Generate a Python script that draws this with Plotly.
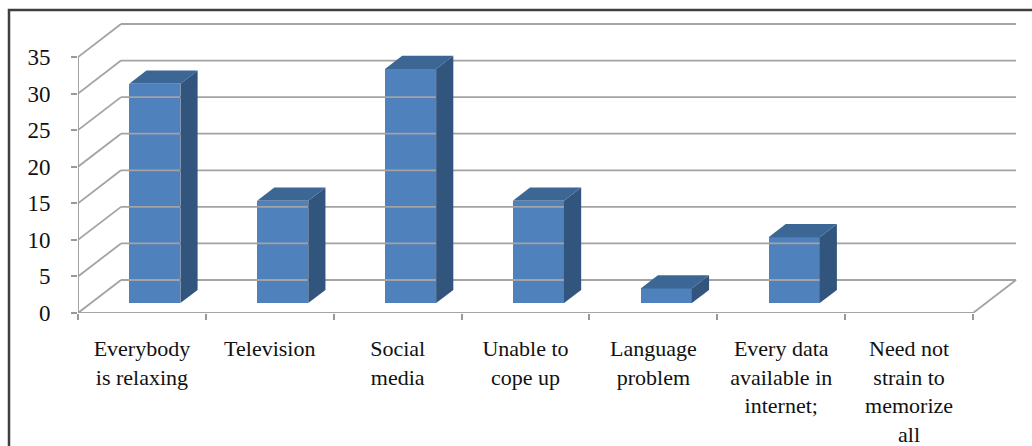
import plotly.graph_objects as go

categories = ["Everybody<br>is relaxing", "Television", "Social<br>media", "Unable to<br>cope up",
              "Language<br>problem", "Every data<br>available in<br>internet;",
              "Need not<br>strain to<br>memorize<br>all"]
values = [30, 14, 32, 14, 2, 9, 0]
y_ticks = [0, 5, 10, 15, 20, 25, 30, 35]

# oblique projection settings (in data units)
PX_PER_CAT = 127.86
PX_PER_VAL = 7.314
DX = 43 / PX_PER_CAT      # depth shift along x
DY = 33 / PX_PER_VAL      # depth shift along y
BAR_W = 0.4
F0, F1 = 0.3, 0.7         # bar depth span (fraction of floor depth)

n = len(categories)
x_lo, x_hi = -0.5, n - 0.5
y_max = y_ticks[-1]

GRID = "#a3a3a3"
fig = go.Figure()

def seg(xs, ys, color=GRID, w=1.8):
    fig.add_trace(go.Scatter(x=xs, y=ys, mode="lines", line=dict(color=color, width=w),
                             hoverinfo="skip", showlegend=False))

# back wall gridlines and left wall diagonals
for t in y_ticks:
    seg([x_lo + DX, x_hi + DX], [t + DY, t + DY])
    seg([x_lo, x_lo + DX], [t, t + DY])
# floor
seg([x_lo, x_hi], [0, 0])
seg([x_hi, x_hi + DX], [0, DY])
# front vertical axis
seg([x_lo, x_lo], [0, y_max], color="#999999", w=1.8)

FRONT = "#4F81BD"
SIDE = "#32557D"
TOP = "#3C6693"

sx0, sy0 = F0 * DX, F0 * DY
ddx, ddy = (F1 - F0) * DX, (F1 - F0) * DY

# front faces
fig.add_trace(go.Bar(x=[i + sx0 for i in range(n)], y=values, base=[sy0] * n, width=BAR_W,
                     marker=dict(color=FRONT, line=dict(width=0)), showlegend=False, hoverinfo="skip"))

for i, v in enumerate(values):
    if v <= 0:
        continue
    xl = i - BAR_W / 2 + sx0
    xr = i + BAR_W / 2 + sx0
    yb = sy0
    yt = v + sy0
    # side face
    fig.add_trace(go.Scatter(x=[xr, xr, xr + ddx, xr + ddx, xr], y=[yb, yt, yt + ddy, yb + ddy, yb],
                             fill="toself", fillcolor=SIDE, mode="lines", line=dict(width=0, color=SIDE),
                             hoverinfo="skip", showlegend=False))
    # top face
    fig.add_trace(go.Scatter(x=[xl, xr, xr + ddx, xl + ddx, xl], y=[yt, yt, yt + ddy, yt + ddy, yt],
                             fill="toself", fillcolor=TOP, mode="lines", line=dict(width=0, color=TOP),
                             hoverinfo="skip", showlegend=False))

L, R, T, B = 78, 12, 20, 133
W, H = 1032, 446
pw, ph = W - L - R, H - T - B

fig.update_layout(
    width=W, height=H,
    margin=dict(l=L, r=R, t=T, b=B),
    paper_bgcolor="white", plot_bgcolor="white",
    font=dict(family="Liberation Serif", color="#111111"),
    xaxis=dict(range=[x_lo, x_lo + pw / PX_PER_CAT], tickmode="array", automargin=False,
               tickvals=list(range(n)), ticktext=categories, ticks="", showgrid=False,
               zeroline=False, showline=False, tickfont=dict(size=22, family="Liberation Serif"),
               ticklabelstandoff=20,
               minor=dict(ticks="outside", ticklen=6, tick0=0.5, dtick=1, tickcolor="#999999",
                          tickwidth=1.5, showgrid=False)),
    yaxis=dict(range=[0, ph / PX_PER_VAL], tickmode="array", tickvals=y_ticks, automargin=False,
               ticks="outside", ticklen=6, tickcolor="#999999", tickwidth=1.5,
               showgrid=False, zeroline=False, showline=False,
               tickfont=dict(size=23, family="Liberation Serif"), ticklabelstandoff=16),
    bargap=0,
    shapes=[dict(type="rect", xref="paper", yref="paper",
                 x0=(9 - L) / pw, x1=(W + 10 - L) / pw,
                 y0=-1.0, y1=(H - B - 10) / ph,
                 line=dict(color="#3f3f3f", width=2.5), fillcolor="rgba(0,0,0,0)", layer="above")],
)

fig.write_html("out.html")
